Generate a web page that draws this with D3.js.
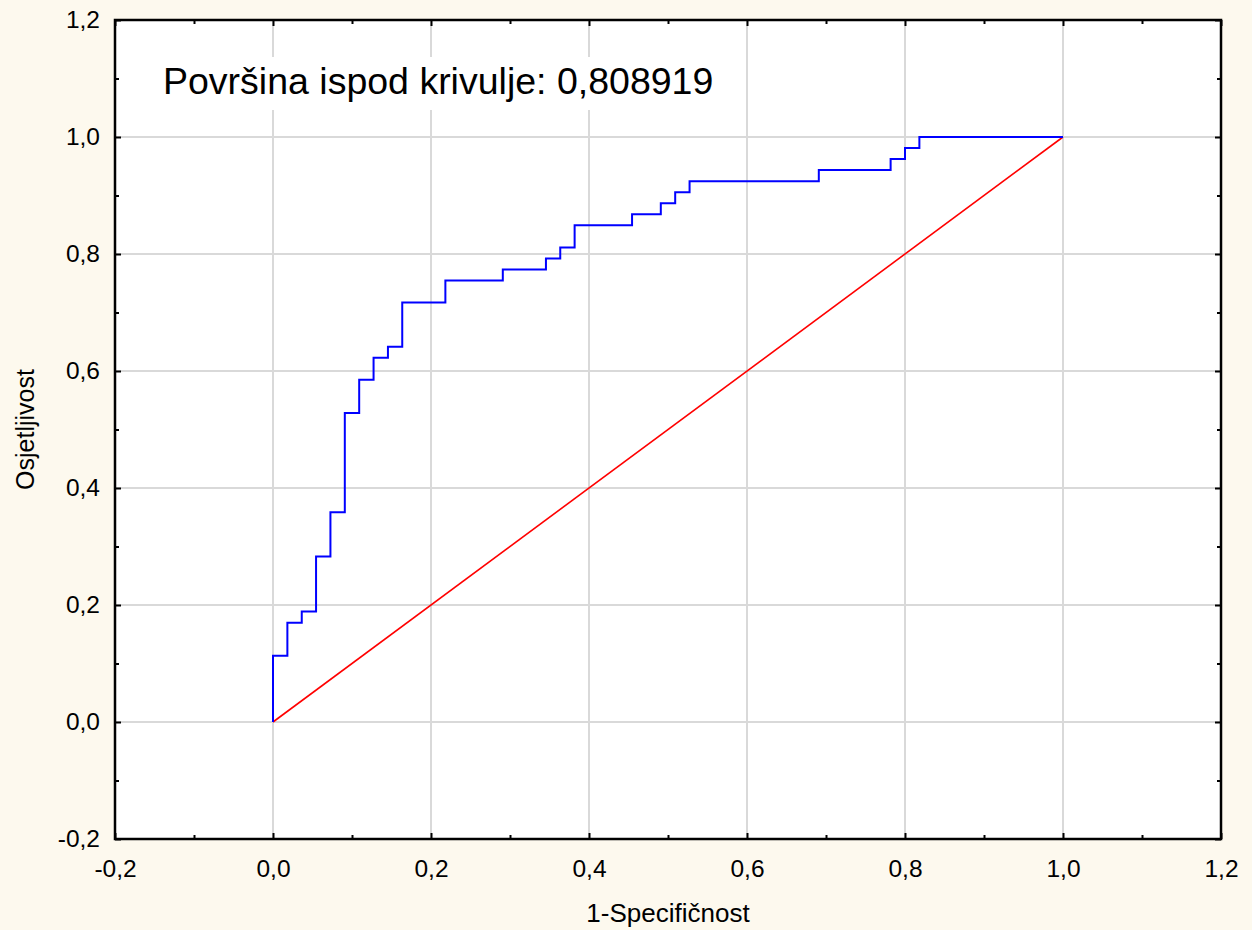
<!DOCTYPE html>
<html>
<head>
<meta charset="utf-8">
<script src="https://cdn.jsdelivr.net/npm/d3@7/dist/d3.min.js"></script>
<style>
  html, body { margin: 0; padding: 0; background: #fdf9ee; }
  svg { display: block; }
  text { font-family: Arial, "Liberation Sans", sans-serif; fill: #000; }
</style>
</head>
<body>
<svg id="chart" width="1252" height="930"></svg>
<script>
// ROC curve vertices (1-Specifičnost, Osjetljivost)
const fpr = [0.0000, 0.0000, 0.0182, 0.0182, 0.0364, 0.0364, 0.0545, 0.0545, 0.0727, 0.0727,
             0.0909, 0.0909, 0.1091, 0.1091, 0.1273, 0.1273, 0.1455, 0.1455, 0.1636, 0.1636,
             0.2182, 0.2182, 0.2909, 0.2909, 0.3455, 0.3455, 0.3636, 0.3636, 0.3818, 0.3818,
             0.4545, 0.4545, 0.4909, 0.4909, 0.5091, 0.5091, 0.5273, 0.5273, 0.6909, 0.6909,
             0.7818, 0.7818, 0.8000, 0.8000, 0.8182, 0.8182, 1.0000];
const tpr = [0.0000, 0.1132, 0.1132, 0.1698, 0.1698, 0.1887, 0.1887, 0.2830, 0.2830, 0.3585,
             0.3585, 0.5283, 0.5283, 0.5849, 0.5849, 0.6226, 0.6226, 0.6415, 0.6415, 0.7170,
             0.7170, 0.7547, 0.7547, 0.7736, 0.7736, 0.7925, 0.7925, 0.8113, 0.8113, 0.8491,
             0.8491, 0.8679, 0.8679, 0.8868, 0.8868, 0.9057, 0.9057, 0.9245, 0.9245, 0.9434,
             0.9434, 0.9623, 0.9623, 0.9811, 0.9811, 1.0000, 1.0000];
// reference (chance) line
const refX = [0.0, 1.0];
const refY = [0.0, 1.0];

const majorTicks = [-0.2, 0.0, 0.2, 0.4, 0.6, 0.8, 1.0, 1.2];
const minorTicks = [-0.1, 0.1, 0.3, 0.5, 0.7, 0.9, 1.1];
const aucLabel = "Površina ispod krivulje: 0,808919";
const xTitle = "1-Specifičnost";
const yTitle = "Osjetljivost";

const FONT = "Arial, 'Liberation Sans', sans-serif";
const fmt = d => d3.format(".1f")(d).replace(".", ",").replace("−", "-");

const svg = d3.select("#chart");
const L = 115, R = 1221, T = 20, B = 839;
const x = d3.scaleLinear().domain([-0.2, 1.2]).range([L, R]);
const y = d3.scaleLinear().domain([-0.2, 1.2]).range([B, T]);

// plot background
svg.append("rect").attr("x", L).attr("y", T).attr("width", R - L).attr("height", B - T).attr("fill", "#fff");

// grid
const grid = svg.append("g");
majorTicks.filter(d => d > -0.2 && d < 1.2).forEach(d => {
  grid.append("line").attr("x1", x(d)).attr("x2", x(d)).attr("y1", T).attr("y2", B)
    .attr("stroke", "#d9d9d9").attr("stroke-width", 2);
  grid.append("line").attr("x1", L).attr("x2", R).attr("y1", y(d)).attr("y2", y(d))
    .attr("stroke", "#d9d9d9").attr("stroke-width", 2);
});

// AUC annotation with white background box
const ann = svg.append("text").attr("x", 163).attr("y", 94).attr("font-size", 37.5)
  .attr("font-family", FONT).text(aucLabel);
const bb = ann.node().getBBox();
svg.insert("rect", "text").attr("x", bb.x - 8).attr("y", 57).attr("width", bb.width + 16).attr("height", 53).attr("fill", "#fff");

// axes with inward ticks on all four sides
function addAxis(axisGen, transform) {
  const g = svg.append("g").attr("transform", transform).call(axisGen);
  g.select(".domain").remove();
  g.selectAll("line").attr("stroke", "#000").attr("stroke-width", 2);
  g.selectAll("text").attr("font-size", 24.5).attr("font-family", FONT).attr("fill", "#000");
  return g;
}
addAxis(d3.axisBottom(x).tickValues(majorTicks).tickSize(-6).tickPadding(21).tickFormat(fmt), `translate(0,${B})`);
addAxis(d3.axisBottom(x).tickValues(minorTicks).tickSize(-4).tickFormat(""), `translate(0,${B})`);
addAxis(d3.axisTop(x).tickValues(majorTicks).tickSize(-6).tickFormat(""), `translate(0,${T})`);
addAxis(d3.axisTop(x).tickValues(minorTicks).tickSize(-4).tickFormat(""), `translate(0,${T})`);
addAxis(d3.axisLeft(y).tickValues(majorTicks).tickSize(-6).tickPadding(15).tickFormat(fmt), `translate(${L},0)`);
addAxis(d3.axisLeft(y).tickValues(minorTicks).tickSize(-4).tickFormat(""), `translate(${L},0)`);
addAxis(d3.axisRight(y).tickValues(majorTicks).tickSize(-6).tickFormat(""), `translate(${R},0)`);
addAxis(d3.axisRight(y).tickValues(minorTicks).tickSize(-4).tickFormat(""), `translate(${R},0)`);

// reference line
const line = d3.line().x(d => x(d[0])).y(d => y(d[1]));
svg.append("path").datum(d3.zip(refX, refY)).attr("d", line)
  .attr("fill", "none").attr("stroke", "#ff0000").attr("stroke-width", 1.6);

// ROC curve
svg.append("path").datum(d3.zip(fpr, tpr)).attr("d", line)
  .attr("fill", "none").attr("stroke", "#0000ff").attr("stroke-width", 2);

// frame
svg.append("rect").attr("x", L).attr("y", T).attr("width", R - L).attr("height", B - T)
  .attr("fill", "none").attr("stroke", "#000").attr("stroke-width", 2.5);

// axis titles
svg.append("text").attr("x", (L + R) / 2).attr("y", 922).attr("text-anchor", "middle")
  .attr("font-size", 26).attr("font-family", FONT).text(xTitle);
svg.append("text").attr("transform", `translate(34,${(T + B) / 2}) rotate(-90)`).attr("text-anchor", "middle")
  .attr("font-size", 25).attr("font-family", FONT).text(yTitle);
</script>
</body>
</html>
